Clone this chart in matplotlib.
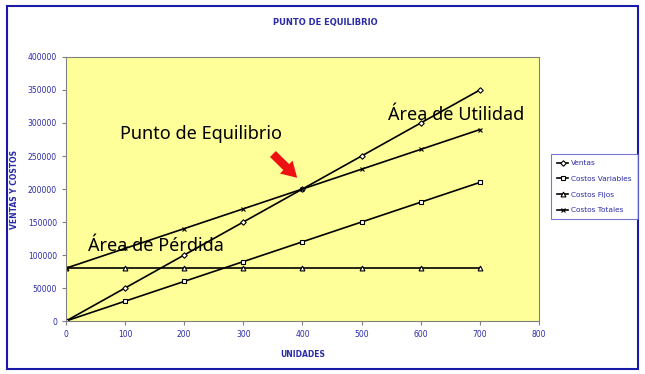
import matplotlib.pyplot as plt
from matplotlib.patches import Rectangle

unidades = [0, 100, 200, 300, 400, 500, 600, 700]
ventas = [0, 50000, 100000, 150000, 200000, 250000, 300000, 350000]
costos_variables = [0, 30000, 60000, 90000, 120000, 150000, 180000, 210000]
costos_fijos = [80000, 80000, 80000, 80000, 80000, 80000, 80000, 80000]
costos_totales = [80000, 110000, 140000, 170000, 200000, 230000, 260000, 290000]

blue = '#2b2ba8'

fig = plt.figure(figsize=(6.45, 3.74), dpi=100)
ax = fig.add_axes([0.1023, 0.1417, 0.7333, 0.7059])
ax.set_facecolor('#ffff99')

style = dict(color='black', lw=1.2, markerfacecolor='white', markeredgewidth=0.8)
ax.plot(unidades, ventas, marker='D', markersize=2.8, label='Ventas', **style)
ax.plot(unidades, costos_variables, marker='s', markersize=3.5, label='Costos Variables', **style)
ax.plot(unidades, costos_fijos, marker='^', markersize=3.5, label='Costos Fijos', **style)
ax.plot(unidades, costos_totales, marker='x', markersize=3.5, label='Costos Totales', **style)

ax.set_xlim(0, 800)
ax.set_ylim(0, 400000)
ax.set_xticks(range(0, 801, 100))
ax.set_yticks(range(0, 400001, 50000))
ax.tick_params(labelsize=5.5, colors='#808080', labelcolor=blue, length=3, width=0.8)
for s in ax.spines.values():
    s.set_color('#808080')

ax.set_xlabel('UNIDADES', fontsize=5.5, fontweight='bold', color=blue, labelpad=8)
ax.set_ylabel('VENTAS Y COSTOS', fontsize=5.5, fontweight='bold', color=blue, labelpad=6)
fig.text(0.504, 0.94, 'PUNTO DE EQUILIBRIO', fontsize=6, fontweight='bold', color=blue, ha='center', va='center')

font = ['Noto Sans', 'DejaVu Sans']
ax.text(92, 283000, 'Punto de Equilibrio', fontsize=13, family=font, ha='left', va='center')
ax.text(545, 312000, 'Área de Utilidad', fontsize=13, family=font, ha='left', va='center')
ax.text(37, 113000, 'Área de Pérdida', fontsize=13, family=font, ha='left', va='center')

# red arrow pointing at the break-even point
ax.annotate('', xy=(391, 217000), xytext=(350, 253000),
            arrowprops=dict(arrowstyle='simple,head_length=1.1,head_width=1.3,tail_width=0.6',
                            color='#ee1111', lw=0, shrinkA=0, shrinkB=0))

leg = fig.legend(loc='upper left', bbox_to_anchor=(0.855, 0.588), fontsize=5.3, frameon=True,
                 fancybox=False, edgecolor='#5555cc', handlelength=1.5, labelspacing=1.3,
                 borderpad=0.8, handletextpad=0.4, borderaxespad=0, labelcolor=blue)
leg.get_frame().set_linewidth(0.8)

fig.patches.append(Rectangle((0.011, 0.013), 0.978, 0.972, transform=fig.transFigure,
                             fill=False, edgecolor='#1a1aa8', lw=1.5))

fig.savefig('out.png', dpi=100)
